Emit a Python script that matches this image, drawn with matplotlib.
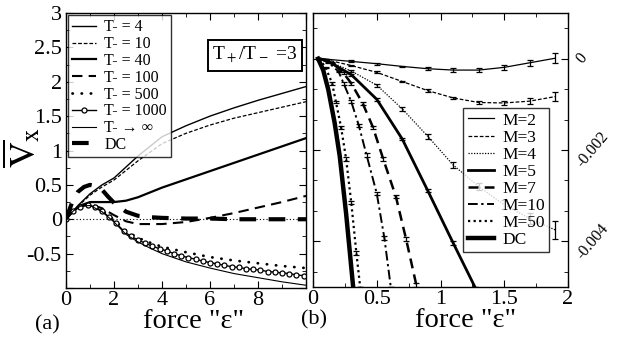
import numpy as np
import matplotlib
matplotlib.use("Agg")
import matplotlib.pyplot as plt
from matplotlib.ticker import MultipleLocator, AutoMinorLocator, FixedLocator, FuncFormatter

plt.rcParams['font.family'] = ['Liberation Serif', 'DejaVu Serif']
plt.rcParams['mathtext.fontset'] = 'stix'

# ---------------- panel (a): mean velocity vs force ----------------
x_t4 = [0, 0.5, 1, 1.5, 2, 3, 4, 5, 6, 7, 8, 9, 10]
v_t4 = [0, 0.2, 0.37, 0.5, 0.6, 0.92, 1.2, 1.36, 1.5, 1.62, 1.73, 1.83, 1.93]
v_t10 = [0, 0.19, 0.35, 0.47, 0.57, 0.85, 1.1, 1.25, 1.37, 1.47, 1.55, 1.63, 1.71]

x_t40 = [0, 0.3, 0.6, 1, 1.5, 2, 2.5, 3, 3.5, 4, 5, 6, 7, 8, 9, 10]
v_t40 = [0, 0.12, 0.2, 0.25, 0.25, 0.25, 0.27, 0.32, 0.39, 0.46, 0.58, 0.7, 0.82, 0.94, 1.06, 1.18]

x_t100 = [0, 0.3, 0.6, 1, 1.5, 2, 2.5, 3, 4, 5, 6, 7, 8, 9, 10]
v_t100 = [0, 0.12, 0.19, 0.22, 0.16, 0.06, -0.03, -0.07, -0.07, -0.04, 0.02, 0.09, 0.17, 0.25, 0.34]

x_t500 = [0, 0.3, 0.6, 1, 1.5, 2, 2.5, 3, 3.5, 4, 5, 6, 7, 8, 9, 10]
v_t500 = [0, 0.12, 0.19, 0.21, 0.13, -0.01, -0.17, -0.27, -0.34, -0.4, -0.48, -0.55, -0.6, -0.64, -0.68, -0.71]
v_tinf = [0, 0.12, 0.19, 0.2, 0.11, -0.04, -0.22, -0.33, -0.42, -0.5, -0.62, -0.71, -0.79, -0.85, -0.91, -0.96]

x_t1000 = [0, 0.3, 0.6, 0.9, 1.2, 1.5, 1.8, 2.1, 2.4, 2.7, 3.0, 3.3, 3.6, 3.9, 4.2, 4.5, 4.8,
           5.1, 5.4, 5.7, 6.0, 6.3, 6.6, 6.9, 7.2, 7.5, 7.8, 8.1, 8.4, 8.7, 9.0, 9.3, 9.6, 9.9]
v_t1000 = [0, 0.12, 0.18, 0.21, 0.18, 0.12, 0.03, -0.06, -0.17, -0.25, -0.3, -0.35, -0.39, -0.43,
           -0.46, -0.5, -0.53, -0.56, -0.58, -0.61, -0.63, -0.65, -0.67, -0.69, -0.7, -0.72, -0.73,
           -0.74, -0.76, -0.77, -0.78, -0.79, -0.81, -0.82]

x_dc = [0, 0.25, 0.5, 0.75, 1, 1.25, 1.5, 1.75, 2, 2.5, 3, 3.5, 4, 5, 6, 7, 8, 9, 10]
v_dc = [0, 0.24, 0.4, 0.47, 0.5, 0.48, 0.43, 0.33, 0.24, 0.11, 0.05, 0.03, 0.02, 0.01, 0.01, 0, 0, 0, 0]

a_labels = ["T- = 4", "T- = 10", "T- = 40", "T- = 100", "T- = 500", "T- = 1000",
            "T- \u2192 \u221e", "DC"]

# ---------------- panel (b): small-force response (units of 1e-3) ----------------
x_m2 = [0.05, 0.1, 0.3, 0.5, 0.7, 0.9, 1.1, 1.3, 1.5, 1.7, 1.9]
v_m2 = [0, -0.01, -0.06, -0.11, -0.17, -0.22, -0.25, -0.25, -0.19, -0.09, 0.01]
e_m2 = [0, 0.01, 0.02, 0.02, 0.02, 0.03, 0.04, 0.05, 0.05, 0.07, 0.11]
v_m3 = [0, -0.02, -0.15, -0.3, -0.5, -0.7, -0.86, -0.96, -0.97, -0.93, -0.83]
e_m3 = [0, 0.01, 0.02, 0.02, 0.02, 0.03, 0.03, 0.04, 0.05, 0.06, 0.1]
v_m4 = [0, -0.03, -0.27, -0.58, -1.1, -1.7, -2.33, -2.8, -3.2, -3.5, -3.75]
e_m4 = [0, 0.01, 0.02, 0.03, 0.04, 0.05, 0.07, 0.08, 0.1, 0.12, 0.2]

x_m5 = [0.05, 0.1, 0.3, 0.5, 0.7, 0.9, 1.1, 1.27]
v_m5 = [0, -0.03, -0.35, -0.89, -1.76, -2.89, -4.04, -5.0]
e_m5 = [0, 0.01, 0.02, 0.03, 0.03, 0.03, 0.04, 0]

x_m7 = [0.05, 0.15, 0.24, 0.3, 0.39, 0.47, 0.55, 0.65, 0.73, 0.81]
v_m7 = [0, -0.08, -0.32, -0.54, -0.98, -1.5, -2.19, -3.02, -3.95, -4.95]
e_m7 = [0, 0.01, 0.02, 0.03, 0.03, 0.03, 0.04, 0.04, 0.04, 0.04]

x_m10 = [0.05, 0.12, 0.2, 0.24, 0.3, 0.36, 0.42, 0.5, 0.56, 0.61]
v_m10 = [0, -0.08, -0.28, -0.54, -0.94, -1.47, -2.11, -2.95, -3.93, -5.0]
e_m10 = [0, 0.01, 0.02, 0.03, 0.03, 0.03, 0.04, 0.04, 0.04, 0]

x_m50 = [0.05, 0.1, 0.15, 0.18, 0.22, 0.26, 0.3, 0.34, 0.37]
v_m50 = [0, -0.2, -0.54, -0.95, -1.5, -2.2, -3.15, -4.25, -5.0]
e_m50 = [0, 0.01, 0.03, 0.03, 0.03, 0.04, 0.04, 0.04, 0]

x_dcb = [0.04, 0.08, 0.12, 0.17, 0.21, 0.26, 0.315]
v_dcb = [0, -0.25, -0.68, -1.41, -2.14, -3.4, -5.0]

b_labels = ["M=2", "M=3", "M=4", "M=5", "M=7", "M=10", "M=50", "DC"]

fig = plt.figure(figsize=(6.17, 3.37), dpi=100)
ax1 = fig.add_axes([66 / 617, 49 / 337, 240 / 617, 275 / 337])
ax2 = fig.add_axes([313 / 617, 50 / 337, 255 / 617, 274 / 337])

k = 'black'
ax1.axhline(0, color=k, lw=0.8, ls=(0, (1, 2)), zorder=1)
h = []
h += ax1.plot(x_t4, v_t4, color=k, lw=1.0)
h += ax1.plot(x_t4, v_t10, color=k, lw=0.9, ls=(0, (3, 1.5)))
h += ax1.plot(x_t40, v_t40, color=k, lw=1.6)
h += ax1.plot(x_t100, v_t100, color=k, lw=1.5, ls=(0, (5, 3)))
h += ax1.plot(x_t500, v_t500, color=k, lw=2.0, ls=(0, (0.1, 3.2)), dash_capstyle='round')
h += ax1.plot(x_t1000, v_t1000, color=k, lw=1.0, marker='o', ms=3.6, mfc='white', mec=k, mew=0.9)
h += ax1.plot(x_t500, v_tinf, color=k, lw=0.8)
h += ax1.plot(x_dc, v_dc, color=k, lw=3.0, ls=(0, (4, 3)))

ax1.set_xlim(0, 10)
ax1.set_ylim(-1, 3)
ax1.xaxis.set_major_locator(FixedLocator([0, 2, 4, 6, 8, 10]))
ax1.xaxis.set_major_formatter(FuncFormatter(lambda v, p: '' if v > 9 else f'{v:g}'))
ax1.xaxis.set_minor_locator(MultipleLocator(1))
ax1.yaxis.set_major_locator(MultipleLocator(0.5))
ax1.yaxis.set_major_formatter(FuncFormatter(lambda v, p: '' if v < -0.9 else f'{v:g}'))
ax1.yaxis.set_minor_locator(MultipleLocator(0.25))
ax1.tick_params(which='both', direction='in', top=True, right=True, labelsize=16, pad=3)
ax1.tick_params(axis='x', pad=2)
ax1.tick_params(which='major', length=5)
ax1.tick_params(which='minor', length=3)
ax1.set_xlabel('force "\u03b5"', fontsize=20.5)
ax1.xaxis.set_label_coords(0.53, -0.078)

fig.text(22 / 617, 1 - 148 / 337, r'$\overline{\mathrm{V}}_{\mathrm{x}}$', fontsize=26,
         rotation=90, ha='center', va='center')

leg1 = ax1.legend(h, a_labels, loc='upper left', fontsize=11.5, frameon=True, fancybox=False,
                  edgecolor=k, handlelength=1.5, handletextpad=0.5, labelspacing=0.05,
                  borderpad=0.25, borderaxespad=0.15)
leg1.get_frame().set_linewidth(1.0)

ax1.text(0.61, 0.845, r'T$_+$/T$_-$ =3', transform=ax1.transAxes, fontsize=14,
         ha='left', va='center',
         bbox=dict(boxstyle='square,pad=0.25', fc='white', ec=k, lw=1.4))

# panel (b)
s = 1e-3
eb = dict(capsize=2.5, elinewidth=0.9, capthick=0.9, ecolor=k)
hb = []
hb.append(ax2.errorbar(x_m2, np.array(v_m2) * s, yerr=np.array(e_m2) * s, color=k, lw=0.9, **eb)[0])
hb.append(ax2.errorbar(x_m2, np.array(v_m3) * s, yerr=np.array(e_m3) * s, color=k, lw=0.9,
                       ls=(0, (3, 1.5)), **eb)[0])
hb.append(ax2.errorbar(x_m2, np.array(v_m4) * s, yerr=np.array(e_m4) * s, color=k, lw=0.9,
                       ls=(0, (1, 1.2)), **eb)[0])
hb.append(ax2.errorbar(x_m5, np.array(v_m5) * s, yerr=np.array(e_m5) * s, color=k, lw=2.0, **eb)[0])
hb.append(ax2.errorbar(x_m7, np.array(v_m7) * s, yerr=np.array(e_m7) * s, color=k, lw=1.8,
                       ls=(0, (4, 2.5)), **eb)[0])
hb.append(ax2.errorbar(x_m10, np.array(v_m10) * s, yerr=np.array(e_m10) * s, color=k, lw=1.4,
                       ls=(0, (5, 1.8, 1.2, 1.8)), **eb)[0])
hb.append(ax2.errorbar(x_m50, np.array(v_m50) * s, yerr=np.array(e_m50) * s, color=k, lw=1.6,
                       ls=(0, (1, 1.5)), **eb)[0])
hb += ax2.plot(x_dcb, np.array(v_dcb) * s, color=k, lw=3.2)

ax2.set_xlim(0, 2)
ax2.set_ylim(-0.005, 0.001)
ax2.xaxis.set_major_locator(MultipleLocator(0.5))
ax2.xaxis.set_major_formatter(FuncFormatter(lambda v, p: f'{v:g}'))
ax2.xaxis.set_minor_locator(MultipleLocator(0.25))
ax2.yaxis.set_major_locator(FixedLocator([0, -0.002, -0.004]))
ax2.yaxis.set_major_formatter(FuncFormatter(lambda v, p: '0' if abs(v) < 1e-9 else f'{v:g}'))
ax2.yaxis.set_minor_locator(AutoMinorLocator(3))
ax2.tick_params(which='both', direction='in', top=True, right=True, left=True,
                labelleft=False, labelright=True)
ax2.tick_params(axis='x', labelsize=16, pad=2)
ax2.tick_params(axis='y', labelsize=11.5, pad=4, labelrotation=50)
ax2.tick_params(which='major', length=5)
ax2.tick_params(which='minor', length=3)
for t in ax2.get_yticklabels():
    t.set_horizontalalignment('left')
    t.set_verticalalignment('center')
ax2.set_xlabel('force "\u03b5"', fontsize=20.5)
ax2.xaxis.set_label_coords(0.60, -0.078)

leg2 = ax2.legend(hb, b_labels, loc='upper left', bbox_to_anchor=(0.59, 0.653), fontsize=12.5,
                  frameon=True, fancybox=False, edgecolor=k, handlelength=1.5,
                  handletextpad=0.5, labelspacing=0.05, borderpad=0.25, borderaxespad=0)
leg2.get_frame().set_linewidth(1.0)

for ax in (ax1, ax2):
    for sp in ax.spines.values():
        sp.set_linewidth(1.0)

fig.text(35 / 617, 1 - 325 / 337, '(a)', fontsize=16, va='center', ha='left')
fig.text(301 / 617, 1 - 320 / 337, '(b)', fontsize=16, va='center', ha='left')

fig.savefig('out.png', dpi=100)
